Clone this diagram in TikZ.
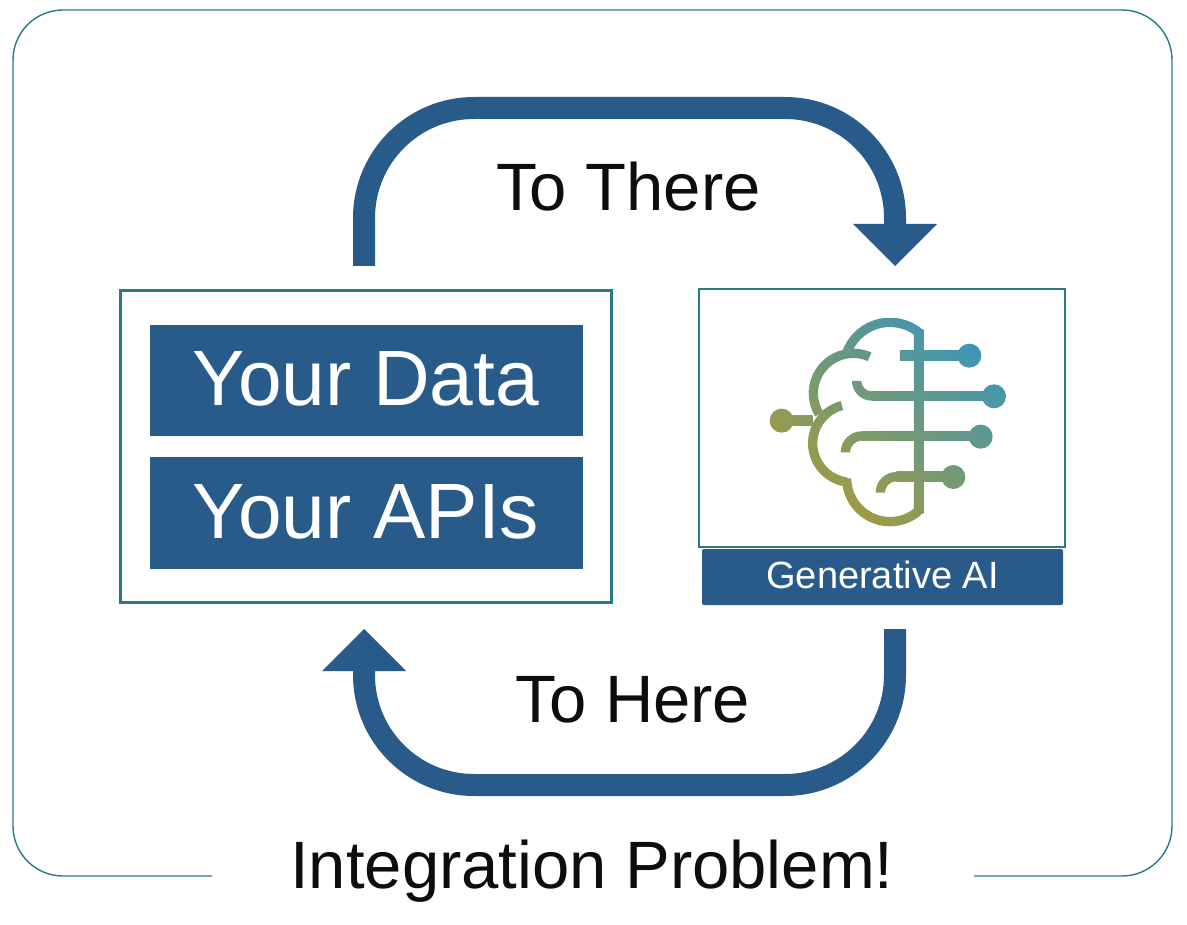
\documentclass[tikz,border=0pt]{standalone}
\usepackage{fontspec}
\setmainfont{Liberation Sans}
\definecolor{navy}{HTML}{295B8A}
\definecolor{tealline}{HTML}{2B7A8A}
\definecolor{olive}{HTML}{A89C38}
\definecolor{tealb}{HTML}{3F96B4}
% one piece of the brain mark: clip to the outline, paint the shared gradient
\newcommand{\brainpiece}[1]{%
  \begin{scope}
    \clip #1;
    \shade[bottom color=olive,top color=tealb,shading angle=-38] (85,85) rectangle (802,712);
  \end{scope}}
\newcommand{\brainbar}[4]{\brainpiece{(#1,#2) rectangle (#3,#4)}}
\newcommand{\braindot}[2]{\brainpiece{(#1,#2) circle[radius=36]}}
% centre x, centre y, radius, start angle, end angle; band half width 14
\newcommand{\brainarc}[5]{\brainpiece{({#1+(#3+14)*cos(#4)},{#2+(#3+14)*sin(#4)}) arc[start angle=#4,end angle=#5,radius=#3+14] -- ({#1+(#3-14)*cos(#5)},{#2+(#3-14)*sin(#5)}) arc[start angle=#5,end angle=#4,radius=#3-14] -- cycle}}
\tikzset{
  frame/.style={draw=tealline,line width=1.4pt},
  banner/.style={fill=navy,text=white,inner sep=0pt,anchor=center},
  loopline/.style={draw=navy,line width=22pt},
  tiphead/.style={fill=navy},
  caption/.style={inner sep=0pt,anchor=base,text=black!95},
}
\begin{document}
\begin{tikzpicture}[x=1pt,y=-1pt]
\useasboundingbox (0,0) rectangle (1187,925);
\fill[white] (0,0) rectangle (1187,925);
% outer frame
\coordinate (fa) at (212,876);
\coordinate (fb) at (974,876);
\draw[frame,rounded corners=50pt] (fa) -- (13,876) -- (13,10) -- (1172,10) -- (1172,876) -- (fb);
% left box
\node[draw=tealline,line width=3pt,minimum width=491pt,minimum height=312pt,inner sep=0pt] (left) at (366,446.5) {};
\node[banner,minimum width=433pt,minimum height=111pt,text height=55pt,text depth=4pt,font=\fontsize{78.5}{78.5}\selectfont] (data) at (366,380.5) {Your Data};
\node[banner,minimum width=433pt,minimum height=112pt,text height=55pt,text depth=4pt,font=\fontsize{78.5}{78.5}\selectfont] (apis) at (366,513) {Your APIs};
% right box
\node[draw=tealline,line width=1.4pt,minimum width=366pt,minimum height=258pt,inner sep=0pt] (ai) at (882,418) {};
\node[banner,rounded corners=2pt,minimum width=361pt,minimum height=56pt,text height=27pt,text depth=5pt,font=\fontsize{38}{38}\selectfont] (gen) at (882.5,577) {Generative AI};
% brain
\begin{scope}[shift={(740,290)},x=0.3333pt,y=-0.3333pt]
  \brainbar{522}{118}{550}{672}
  \brainarc{450}{235}{138}{-51.5}{-158.7}
  \brainarc{340}{310}{120}{-66}{-211.3}
  \brainarc{335}{460}{117}{-104.4}{-263}
  \brainarc{450}{565}{130}{180}{49.3}
  \brainbar{480}{183}{688}{211}
  \braindot{688}{197}
  \brainarc{395}{273}{45}{180}{90}
  \brainbar{395}{304}{762}{332}
  \braindot{762}{319}
  \brainarc{365}{487}{49}{180}{270}
  \brainbar{365}{424}{722}{452}
  \braindot{722}{440}
  \brainarc{469}{608}{48}{180}{270}
  \brainbar{469}{546}{640}{574}
  \braindot{640}{561}
  \brainbar{125}{378}{218}{406}
  \braindot{125}{392}
\end{scope}
% arrows
\coordinate (a1) at (364,266);
\coordinate (a2) at (895,224);
\coordinate (b1) at (895,629);
\coordinate (b2) at (364,671);
\draw[loopline] (a1) -- (364,218) arc[start angle=180,end angle=270,radius=110] -- (785,108) arc[start angle=-90,end angle=0,radius=110] -- (a2);
\fill[tiphead] (853,224) -- (937,224) -- (895,266) -- cycle;
\draw[loopline] (b1) -- (895,675) arc[start angle=0,end angle=90,radius=110] -- (474,785) arc[start angle=90,end angle=180,radius=110] -- (b2);
\fill[tiphead] (322,671) -- (406,671) -- (364,629) -- cycle;
% captions
\node[caption,font=\fontsize{67}{67}\selectfont] (there) at (628.5,211) {To There};
\node[caption,font=\fontsize{67}{67}\selectfont] (here) at (633,722) {To Here};
\node[caption,font=\fontsize{67}{67}\selectfont] (prob) at (592,888) {Integration Problem!};
\end{tikzpicture}
\end{document}
